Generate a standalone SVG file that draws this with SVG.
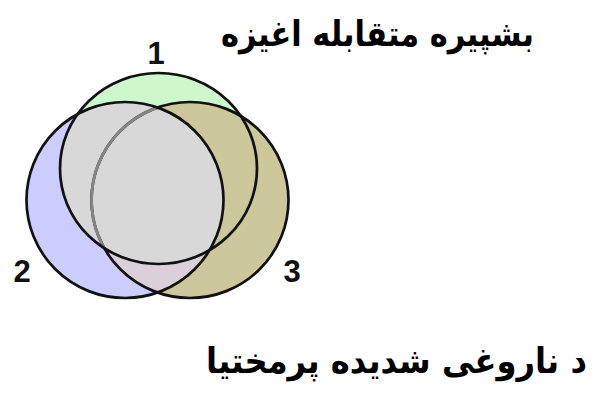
<svg xmlns="http://www.w3.org/2000/svg" width="595" height="393" viewBox="0 0 595 393">
<style>
.num{font-family:"Liberation Sans",Arial,sans-serif;font-weight:bold;font-size:31px;fill:#111;text-anchor:middle}
.ttl{font-family:"DejaVu Sans",sans-serif;font-weight:bold;font-size:35px;fill:#000;text-anchor:middle}
.edge{fill:none;stroke:#111;stroke-width:2.7}
</style>
<defs>
<clipPath id="c1"><ellipse cx="158.5" cy="168.5" rx="98.5" ry="95.5"/></clipPath>
<clipPath id="c2"><ellipse cx="125" cy="200" rx="98.5" ry="98"/></clipPath>
<clipPath id="c12" clip-path="url(#c1)"><ellipse cx="125" cy="200" rx="98.5" ry="98"/></clipPath>
</defs>
<rect width="595" height="393" fill="#fff"/>
<g id="venn-fills">
<ellipse cx="158.5" cy="168.5" rx="98.5" ry="95.5" fill="#ccf8cc"/>
<ellipse cx="125" cy="200" rx="98.5" ry="98" fill="#ccccff"/>
<ellipse cx="190" cy="200" rx="98.5" ry="98" fill="#ccc89c"/>
<ellipse cx="190" cy="200" rx="98.5" ry="98" fill="#dcd0d8" clip-path="url(#c2)"/>
<ellipse cx="125" cy="200" rx="98.5" ry="98" fill="#d8d8d8" clip-path="url(#c1)"/>
</g>
<g id="set3">
<ellipse class="edge" cx="190" cy="200" rx="98.5" ry="98"/>
<ellipse cx="190" cy="200" rx="98.5" ry="98" fill="none" stroke="#858585" stroke-width="2.8" clip-path="url(#c12)"/>
<text class="num" x="292" y="282">3</text>
</g>
<g id="set2">
<ellipse class="edge" cx="125" cy="200" rx="98.5" ry="98"/>
<text class="num" x="22" y="282">2</text>
</g>
<g id="set1">
<ellipse class="edge" cx="158.5" cy="168.5" rx="98.5" ry="95.5"/>
<text class="num" x="156" y="64">1</text>
</g>
<g id="title-top">
<text class="ttl" transform="translate(377.5,46) scale(0.87,1)">بشپیره متقابله اغیزه</text>
</g>
<g id="title-bottom">
<text class="ttl" transform="translate(396.5,373) scale(0.92,1)">د ناروغی شدیده پرمختیا</text>
</g>
</svg>
